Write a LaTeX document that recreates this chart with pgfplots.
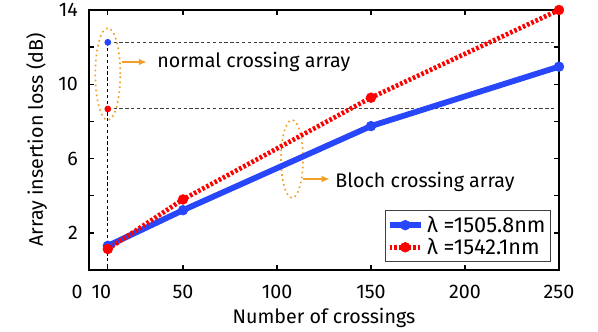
\documentclass[border=0pt]{standalone}
\usepackage{pgfplots}
\pgfplotsset{compat=1.18}
\usetikzlibrary{arrows.meta}
\usepackage{fontspec}
\setmainfont{Fira Sans}
\definecolor{myblue}{RGB}{40,70,250}
\definecolor{myorange}{RGB}{243,160,40}
\begin{document}
\begin{tikzpicture}[font=\fontsize{11.8}{14}\selectfont]
\useasboundingbox (-53.4pt,-36.6pt) rectangle (305.4pt,162pt);
\begin{axis}[
  at={(0pt,0pt)}, anchor=south west,
  scale only axis, width=282pt, height=156pt,
  xmin=0, xmax=250, ymin=0, ymax=14,
  clip=false,
  /pgf/number format/assume math mode=true,
  axis line style={line width=1.1pt},
  tick style={line width=0.8pt, black},
  major tick length=3pt,
  tick align=inside,
  xtick={0,10,50,100,150,200,250},
  xticklabels={\makebox[0pt]{0\kern14.4pt},\makebox[0pt]{10\kern7.8pt},50,100,150,200,250},
  ytick={2,6,10,14},
  extra y ticks={4,8,12},
  extra y tick labels={},
  xticklabel style={anchor=base, yshift=-16.8pt},
  yticklabel style={anchor=east, inner sep=0pt, xshift=-6.5pt},
  xlabel={Number of crossings},
  ylabel={Array insertion loss (dB)},
  xlabel style={at={(axis description cs:0.5,0)}, anchor=base, yshift=-32pt},
  ylabel style={at={(axis description cs:-0.098,0.5)}, anchor=base},
  legend style={at={(rel axis cs:0.983,0.03)}, anchor=south east, draw=black!75, line width=0.6pt, inner sep=1pt, row sep=-2pt,
     font=\fontsize{13}{15}\selectfont,
     nodes={inner sep=2pt}, legend image code/.code={\draw[mark repeat=2,mark phase=2] plot coordinates {(0cm,0cm) (0.33cm,0cm) (0.66cm,0cm)};}},
  legend cell align=left,
]
% annotation dashed lines
\addplot[forget plot, black!75, line width=0.6pt, dash pattern=on 2pt off 1.5pt] coordinates {(10,12.26)(248,12.26)};
\addplot[forget plot, black!75, line width=0.6pt, dash pattern=on 2pt off 1.5pt] coordinates {(10,8.67)(248,8.67)};
\addplot[forget plot, black, line width=0.5pt, dash pattern=on 2pt off 1.5pt] coordinates {(10,12.26)(10,0)};
\addplot[forget plot, only marks, mark=*, mark size=1.8pt, myblue] coordinates {(10,12.26)};
\addplot[forget plot, only marks, mark=*, mark size=1.8pt, red] coordinates {(10,8.67)};
% ellipses and arrows
\draw[myorange, line width=1pt, dotted] (axis cs:10,10.55) ellipse [x radius=7.5pt, y radius=27.6pt];
\draw[myorange, line width=1pt, dotted] (axis cs:108,5.98) ellipse [x radius=6.6pt, y radius=23.4pt];
\draw[myorange, line width=1pt, -{Latex[length=5pt,width=4pt]}] (axis cs:17.6,11.2) -- (axis cs:30.9,11.2);
\draw[myorange, line width=1pt, -{Latex[length=5pt,width=4pt]}] (axis cs:113.8,4.9) -- (axis cs:128.2,4.9);
\node[anchor=west, inner sep=0pt] at (axis cs:36.2,11.2) {normal crossing array};
\node[anchor=west, inner sep=0pt] at (axis cs:130.9,4.75) {Bloch crossing array};
% data
\addplot[myblue, line width=3.5pt, mark=*, mark size=2.9pt, mark options={line width=0.4pt}] coordinates {(10,1.3)(50,3.22)(150,7.75)(250,10.95)};
\addlegendentry{λ =1505.8nm}
\addplot[red, line width=2.8pt, dash pattern=on 1.6pt off 1.2pt, mark=*, mark size=2.9pt, mark options={solid, line width=0.4pt}] coordinates {(10,1.13)(50,3.8)(150,9.28)(250,14.0)};
\addlegendentry{λ =1542.1nm}
\end{axis}
\end{tikzpicture}
\end{document}
